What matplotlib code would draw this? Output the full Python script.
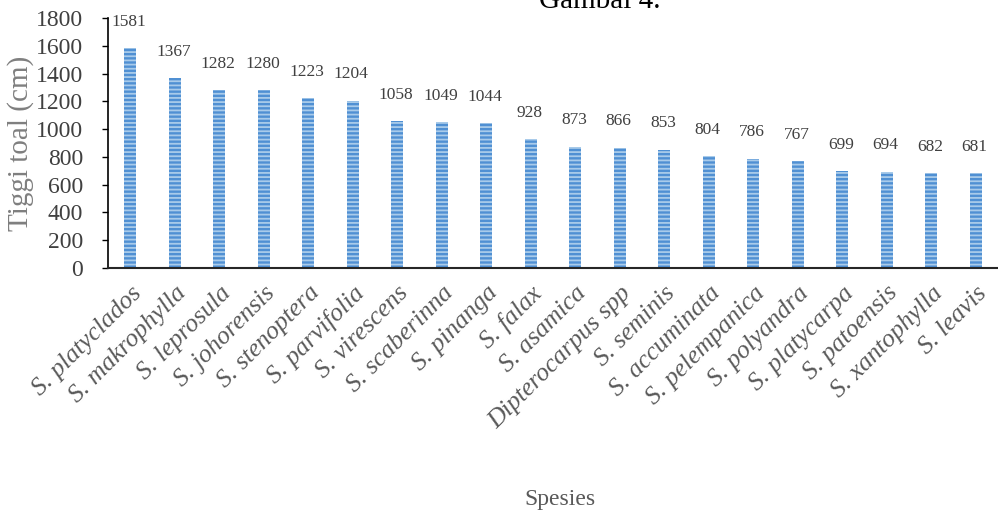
import matplotlib.pyplot as plt
import numpy as np

spesies = ['S. platyclados', 'S. makrophylla', 'S. leprosula', 'S. johorensis',
           'S. stenoptera', 'S. parvifolia', 'S. virescens', 'S. scaberinna',
           'S. pinanga', 'S. falax', 'S. asamica', 'Dipterocarpus spp',
           'S. seminis', 'S. accuminata', 'S. pelempanica', 'S. polyandra',
           'S. platycarpa', 'S. patoensis', 'S. xantophylla', 'S. leavis']
tinggi = [1581, 1367, 1282, 1280, 1223, 1204, 1058, 1049, 1044, 928,
          873, 866, 853, 804, 786, 767, 699, 694, 682, 681]
yticks = [0, 200, 400, 600, 800, 1000, 1200, 1400, 1600, 1800]

plt.rcParams['font.family'] = ['Liberation Serif', 'DejaVu Serif']
plt.rcParams['hatch.linewidth'] = 1.3

fig = plt.figure(figsize=(9.98, 5.18), dpi=100)
ax = fig.add_axes([0.1082, 0.4826, 0.8918, 0.4827])

x = np.arange(len(spesies))
ax.bar(x, tinggi, width=0.27, color='#5090D3', edgecolor='#A9CBEA',
       hatch='----', linewidth=0)

# label nilai sedikit di atas batang
for xi, v in zip(x, tinggi):
    ax.annotate(str(v), (xi, v), xytext=(-1, 19), textcoords='offset points',
                ha='center', va='center', fontsize=12.5, color='#404040')

ax.set_xlim(-0.5, len(spesies) - 0.5)
ax.set_ylim(0, 1800)
ax.set_yticks(yticks)
ax.tick_params(axis='y', labelsize=17, labelcolor='#404040', length=4,
               width=1, color='black', pad=14)
ax.set_xticks(x)
ax.set_xticklabels(spesies, rotation=45, ha='right', rotation_mode='anchor',
                   fontsize=18.5, style='italic', color='#595959')
ax.tick_params(axis='x', length=0, pad=10)

for s in ['top', 'right']:
    ax.spines[s].set_visible(False)
ax.spines['left'].set_linewidth(1.2)
ax.spines['bottom'].set_linewidth(1.5)
ax.spines['bottom'].set_color('#262626')

ax.set_ylabel('Tiggi toal (cm)', fontsize=21, color='#7f7f7f', labelpad=1)
fig.text(0.561, 0.035, 'Spesies', ha='center', va='center', fontsize=17,
         color='#595959')
fig.text(0.601, 0.984, 'Gambal 4.', ha='center', va='baseline', fontsize=21,
         color='black')

fig.savefig('out.png', dpi=100)
